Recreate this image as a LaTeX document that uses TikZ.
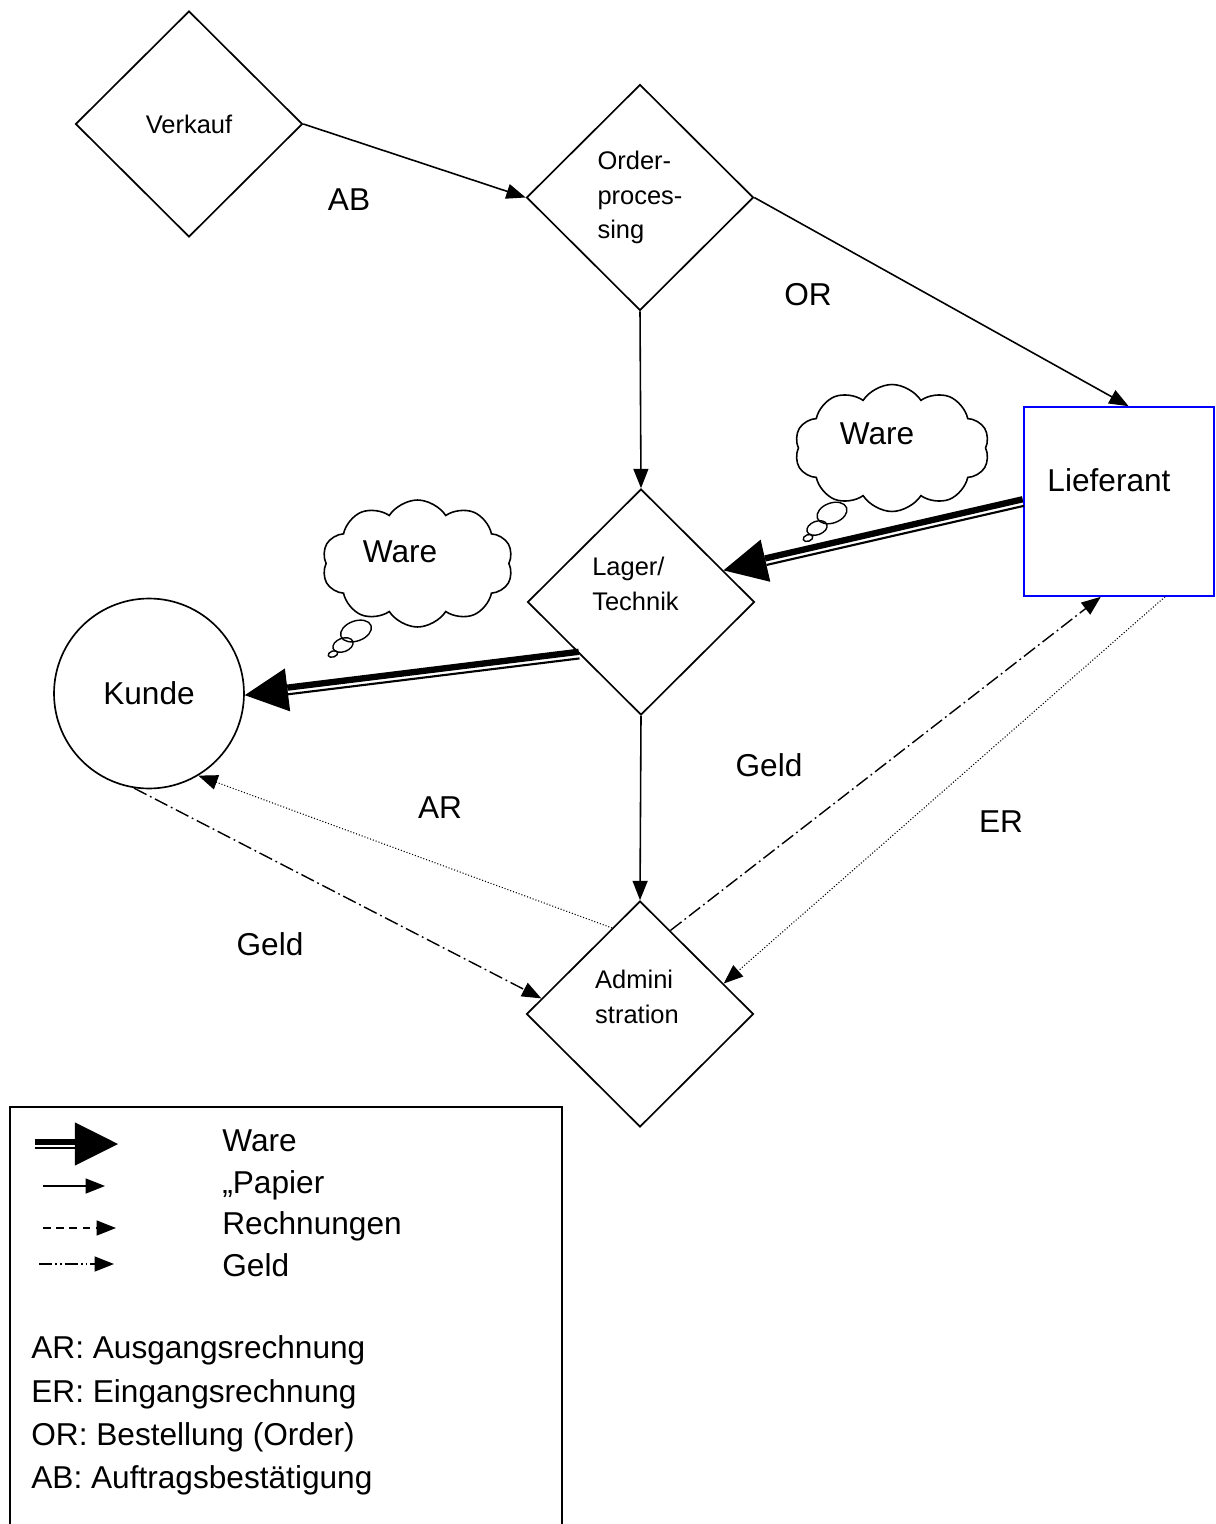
\documentclass[tikz,border=0pt]{standalone}
\usepackage{fontspec}
\setmainfont{Liberation Sans}
\usetikzlibrary{shapes.geometric,shapes.symbols,arrows.meta,calc}

\newcommand{\WareArrow}[4]{%
  \coordinate (wa-s) at (#1);
  \coordinate (wa-t) at (#2);
  \coordinate (wa-b) at ($(wa-t)!24.5pt!(wa-s)$);
  \fill ($(wa-b)!12.3pt!90:(wa-t)$) -- (wa-t) -- ($(wa-b)!12.3pt!-90:(wa-t)$) -- cycle;
  \draw[line width=3.6pt] ($(wa-s)!1.3pt!#3:(wa-t)$) -- ($(wa-b)!1.3pt!#4:(wa-s)$);
  \draw[line width=1.2pt] ($(wa-s)!2.5pt!#4:(wa-t)$) -- ($(wa-b)!2.5pt!#3:(wa-s)$);
}

\tikzset{
  small/.style={font=\fontsize{14.5}{19.5}\selectfont, align=left},
  big/.style={font=\fontsize{18}{24}\selectfont},
  dia/.style={draw, shape=diamond, line width=0.95pt, minimum width=4.54cm,
    minimum height=4.52cm, inner sep=0pt, small},
  tip/.style={-{Triangle[length=11pt,width=8.5pt]}},
  paper/.style={line width=0.9pt, tip},
  bill/.style={line width=0.6pt, dash pattern=on 0.6pt off 1.1pt, tip},
  money/.style={line width=0.8pt, dash pattern=on 8pt off 2.2pt on 1pt off 2.2pt, tip},
  legbill/.style={line width=0.8pt, dash pattern=on 4.5pt off 3pt, tip},
  leggeld/.style={line width=0.8pt, dash pattern=on 7.5pt off 1.7pt on 1pt off 1.7pt on 1pt off 1.7pt, tip},
  wolke/.style={draw, cloud, cloud puffs=10, cloud puff arc=115, line width=0.9pt, inner sep=0pt},
  bubble/.style={draw, ellipse, line width=0.8pt, inner sep=0pt, rotate=20},
}

\begin{document}
\begin{tikzpicture}[x=0.02cm,y=0.02cm]
\useasboundingbox (0,0) rectangle (1215,-1524);

% process nodes
\node[dia] (verk) at (189,-124) {Verkauf};
\node[dia] (ord) at (640,-197.5) {Order-\\proces-\\sing};
\node[dia, label={[small, xshift=-0.11cm, yshift=0.36cm]center:{Lager/\\Technik}}] (lag) at (641,-602) {};
\node[dia, label={[small, xshift=-0.06cm, yshift=0.34cm]center:{Admini\\stration}}] (adm) at (640,-1014) {};
\node[draw, circle, line width=0.95pt, minimum size=3.8cm, inner sep=0pt, big] (kunde) at (149,-693.5) {Kunde};
\node[draw=blue, line width=0.95pt, minimum width=3.8cm, minimum height=3.78cm,
  label={[big, xshift=-0.2cm, yshift=0.43cm]center:Lieferant}] (lief) at (1119,-501.5) {};

% clouds
\node[wolke, minimum width=3.9cm, minimum height=2.54cm,
  label={[big, xshift=-0.3cm, yshift=0.28cm]center:Ware}] (c1) at (892,-448) {};
\node[bubble, minimum width=0.62cm, minimum height=0.4cm] (c1b1) at (832,-513) {};
\node[bubble, minimum width=0.42cm, minimum height=0.27cm] (c1b2) at (817,-528) {};
\node[bubble, minimum width=0.2cm, minimum height=0.13cm] (c1b3) at (808,-538) {};

\node[wolke, minimum width=3.82cm, minimum height=2.54cm,
  label={[big, xshift=-0.35cm, yshift=0.23cm]center:Ware}] (c2) at (417.5,-563.5) {};
\node[bubble, minimum width=0.64cm, minimum height=0.4cm] (c2b1) at (356,-631) {};
\node[bubble, minimum width=0.42cm, minimum height=0.27cm] (c2b2) at (343,-645) {};
\node[bubble, minimum width=0.2cm, minimum height=0.12cm] (c2b3) at (333,-654) {};

% paper flow
\draw[paper] (verk.east) -- (ord.west);
\draw[paper] (ord.east) -- ($(lief.north west)!0.55!(lief.north east)$);
\draw[paper] (ord.south) -- (lag.north);
\draw[paper] (lag.south) -- (adm.north);

% goods flow
\WareArrow{lief.west}{lag.21}{-90}{90}
\WareArrow{lag.220}{kunde.-1}{-90}{90}

% invoices and money
\draw[bill] (adm.108) -- (kunde.-59);
\draw[money] (kunde.-99) -- (adm.171);
\draw[money] (adm.70) -- ($(lief.south west)!0.405!(lief.south east)$);
\draw[bill] ($(lief.south west)!0.74!(lief.south east)$) -- (adm.20);

% edge labels
\node[big] (lAB) at (349,-200) {AB};
\node[big] (lOR) at (808,-295) {OR};
\node[big] (lG1) at (769,-765) {Geld};
\node[big] (lER) at (1001,-822) {ER};
\node[big] (lAR) at (440,-808) {AR};
\node[big] (lG2) at (270,-944) {Geld};

% legend
\draw[line width=0.95pt] (10,-1524) |- (562,-1107) -- (562,-1524);
\coordinate (lw1) at (35,-1144); \coordinate (lw2) at (118,-1144);
\WareArrow{lw1}{lw2}{90}{-90}
\coordinate (lp1) at (43,-1186); \coordinate (lp2) at (105,-1186);
\draw[paper] (lp1) -- (lp2);
\coordinate (lr1) at (43,-1228); \coordinate (lr2) at (116,-1228);
\draw[legbill] (lr1) -- (lr2);
\coordinate (lg1) at (39,-1264); \coordinate (lg2) at (114,-1264);
\draw[leggeld] (lg1) -- (lg2);

\node[big, anchor=base west, inner sep=0pt] (tW) at (222,-1151) {Ware};
\node[big, anchor=base west, inner sep=0pt] (tP) at (222,-1193) {„Papier};
\node[big, anchor=base west, inner sep=0pt] (tR) at (222,-1234) {Rechnungen};
\node[big, anchor=base west, inner sep=0pt] (tG) at (222,-1276) {Geld};

\node[big, anchor=base west, inner sep=0pt] (tAR) at (31,-1358) {AR: Ausgangsrechnung};
\node[big, anchor=base west, inner sep=0pt] (tER) at (31,-1402) {ER: Eingangsrechnung};
\node[big, anchor=base west, inner sep=0pt] (tOR) at (31,-1445) {OR: Bestellung (Order)};
\node[big, anchor=base west, inner sep=0pt] (tAB) at (31,-1488) {AB: Auftragsbestätigung};
\end{tikzpicture}
\end{document}
